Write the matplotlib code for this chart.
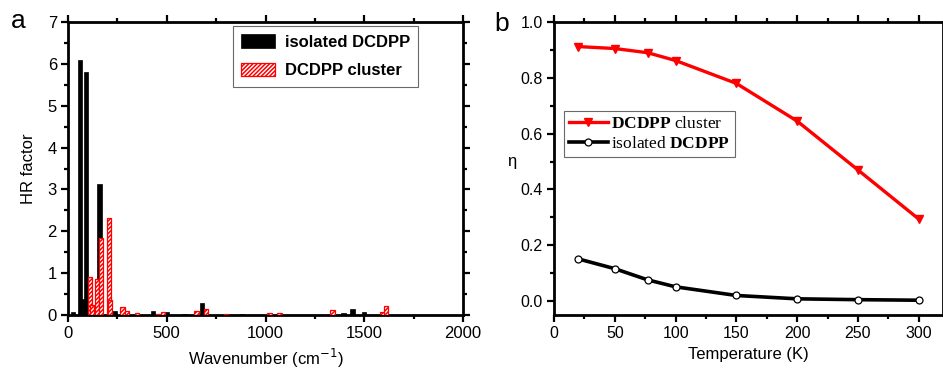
import numpy as np
import matplotlib.pyplot as plt
from matplotlib.ticker import MultipleLocator

plt.rcParams['font.family'] = ['Liberation Sans', 'DejaVu Sans']
plt.rcParams['mathtext.fontset'] = 'custom'
plt.rcParams['mathtext.rm'] = 'Liberation Serif'
plt.rcParams['mathtext.bf'] = 'Liberation Serif:bold'
plt.rcParams['hatch.linewidth'] = 1.1

# ============================================================
# Data
# ============================================================
iso_wn = [25, 60, 78, 90, 160, 235, 430, 500, 590, 680, 880, 1395, 1440, 1500]
iso_hr = [0.08, 6.09, 0.38, 5.81, 3.12, 0.10, 0.10, 0.08, 0.03, 0.28, 0.02, 0.05, 0.14, 0.06]

clu_wn = [112, 122, 148, 168, 208, 214, 276, 300, 350, 455, 480, 650, 700, 800,
          1020, 1070, 1340, 1590, 1610]
clu_hr = [0.91, 0.24, 0.87, 1.84, 2.32, 0.35, 0.19, 0.10, 0.05, 0.03, 0.08, 0.10, 0.14, 0.02,
          0.05, 0.05, 0.12, 0.08, 0.22]

temps   = [20, 50, 77, 100, 150, 200, 250, 300]
eta_clu = [0.912, 0.905, 0.89, 0.862, 0.78, 0.645, 0.47, 0.294]
eta_iso = [0.151, 0.116, 0.076, 0.051, 0.020, 0.008, 0.005, 0.003]

# ============================================================
# Figure
# ============================================================
fig = plt.figure(figsize=(9.43, 3.72), dpi=100)
ax1 = fig.add_axes([0.0721, 0.1532, 0.4189, 0.7876])
ax2 = fig.add_axes([0.5875, 0.1532, 0.4125, 0.7876])


def style_axes(ax, fs):
    for sp in ax.spines.values():
        sp.set_linewidth(2.0)
    ax.tick_params(which='both', direction='out', top=True, right=True,
                   width=1.6, labelsize=fs, pad=3)
    ax.tick_params(which='major', length=5)
    ax.tick_params(which='minor', length=3)


# Panel a
ax1.bar(iso_wn, iso_hr, width=22, color='black', edgecolor='black',
        linewidth=0.5, label='isolated DCDPP', zorder=2)
ax1.bar(clu_wn, clu_hr, width=22, facecolor='white', edgecolor='red',
        hatch='////////', linewidth=0.9, label='DCDPP cluster', zorder=3)
ax1.set_xlim(0, 2000)
ax1.set_ylim(0, 7)
ax1.xaxis.set_major_locator(MultipleLocator(500))
ax1.xaxis.set_minor_locator(MultipleLocator(250))
ax1.yaxis.set_major_locator(MultipleLocator(1))
ax1.yaxis.set_minor_locator(MultipleLocator(0.5))
style_axes(ax1, 12)
ax1.set_xlabel('Wavenumber (cm$^{\\mathsf{-1}}$)', fontsize=12, labelpad=4)
ax1.set_ylabel('HR factor', fontsize=12, labelpad=8)
leg1 = ax1.legend(loc='upper left', bbox_to_anchor=(0.418, 0.986),
                  borderaxespad=0,
                  prop={'weight': 'bold', 'size': 12}, frameon=True,
                  fancybox=False, edgecolor='#444444', handlelength=2.0,
                  handleheight=0.9, borderpad=0.5, labelspacing=0.75,
                  handletextpad=0.6)
leg1.get_frame().set_linewidth(0.8)
fig.text(0.012, 0.925, 'a', fontsize=19, ha='left', va='baseline')

# Panel b
ax2.plot(temps, eta_clu, color='red', linewidth=2.4, marker='v',
         markersize=6, label=r'$\mathbf{DCDPP}$ cluster')
ax2.plot(temps, eta_iso, color='black', linewidth=2.6, marker='o',
         markersize=5, markerfacecolor='white', markeredgecolor='black',
         markeredgewidth=0.9, label=r'isolated $\mathbf{DCDPP}$')
ax2.set_xlim(0, 320)
ax2.set_ylim(-0.05, 1.0)
ax2.xaxis.set_major_locator(MultipleLocator(50))
ax2.xaxis.set_minor_locator(MultipleLocator(25))
ax2.yaxis.set_major_locator(MultipleLocator(0.2))
ax2.yaxis.set_minor_locator(MultipleLocator(0.1))
ax2.yaxis.set_major_formatter(plt.FormatStrFormatter('%.1f'))
style_axes(ax2, 11.5)
ax2.set_xlabel('Temperature (K)', fontsize=12, labelpad=4)
ax2.set_ylabel('η', fontsize=12, rotation=0, labelpad=6)
leg2 = ax2.legend(loc='upper left', bbox_to_anchor=(0.026, 0.696),
                  borderaxespad=0,
                  prop={'family': 'Liberation Serif', 'size': 12.5},
                  frameon=True, fancybox=False, edgecolor='#444444',
                  handlelength=2.2, borderpad=0.3, labelspacing=0.2,
                  handletextpad=0.2)
leg2.get_frame().set_linewidth(0.8)
fig.text(0.524, 0.917, 'b', fontsize=19, ha='left', va='baseline')

plt.savefig('out.png', dpi=100)
